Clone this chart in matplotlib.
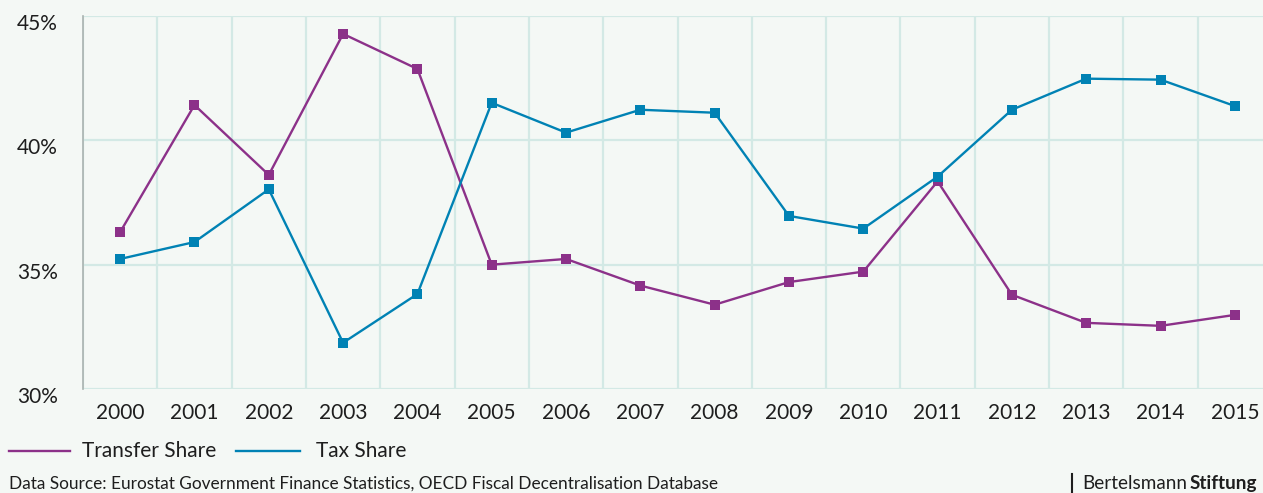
import matplotlib
matplotlib.use("Agg")
import matplotlib.pyplot as plt
import matplotlib.transforms as mtransforms
from matplotlib.lines import Line2D
import numpy as np

years = ["2000", "2001", "2002", "2003", "2004", "2005", "2006", "2007",
         "2008", "2009", "2010", "2011", "2012", "2013", "2014", "2015"]
transfer_share = [36.31, 41.42, 38.61, 44.28, 42.87, 35.00, 35.23, 34.16,
                  33.39, 34.30, 34.72, 38.35, 33.79, 32.66, 32.54, 32.98]
tax_share = [35.23, 35.91, 38.03, 31.86, 33.82, 41.51, 40.31, 41.23,
             41.11, 36.96, 36.45, 38.54, 41.23, 42.48, 42.44, 41.38]
y_ticks = [30, 35, 40, 45]
y_labels = ["30%", "35%", "40%", "45%"]

PURPLE = "#8c3189"
BLUE = "#0082b4"
BG = "#f4f8f5"
GRID = "#d3e9e5"
TEXT = "#1e1e1e"

plt.rcParams['font.family'] = ['Lato', 'DejaVu Sans']

W, H = 1263, 493
fig = plt.figure(figsize=(W / 100, H / 100), dpi=100, facecolor=BG)
left, right, top, bottom = 83, 1272, 16, 389
ax = fig.add_axes([left / W, 1 - bottom / H, (right - left) / W, (bottom - top) / H])
ax.set_facecolor(BG)

x = np.arange(len(years))
ax.plot(x, transfer_share, color=PURPLE, lw=1.7, marker='s', ms=7.5,
        markeredgewidth=0, zorder=3)
ax.plot(x, tax_share, color=BLUE, lw=1.7, marker='s', ms=7.5,
        markeredgewidth=0, zorder=3)

ax.set_xlim(-0.5, len(years) - 0.5)
ax.set_ylim(30, 45)
ax.set_xticks(x)
ax.set_xticklabels(years, fontsize=15, color=TEXT)
ax.set_xticks(np.arange(len(years) + 1) - 0.5, minor=True)
ax.set_yticks(y_ticks)
ax.set_yticklabels(y_labels, fontsize=15, color=TEXT)
ax.tick_params(axis='x', which='both', length=0, pad=10)
ax.tick_params(axis='y', which='both', length=0, pad=18)
ax.grid(True, axis='y', which='major', color=GRID, lw=1.6)
ax.grid(True, axis='x', which='minor', color=GRID, lw=1.6)
ax.grid(False, axis='x', which='major')
ax.set_axisbelow(True)
for s in ['top', 'right', 'bottom']:
    ax.spines[s].set_visible(False)
ax.spines['left'].set_color("#a9b2b0")
ax.spines['left'].set_linewidth(1.2)

# shift y labels slightly down
off = mtransforms.ScaledTranslation(0, -6 / 100, fig.dpi_scale_trans)
for lab in ax.get_yticklabels():
    lab.set_transform(lab.get_transform() + off)

def px(xp, yp):
    return xp / W, 1 - yp / H

# legend (manual)
ly = 451
fig.add_artist(Line2D([9 / W, 70 / W], [1 - ly / H] * 2, color=PURPLE, lw=1.7))
fig.text(*px(82, ly), "Transfer Share", fontsize=15, color=TEXT, va='center', ha='left')
fig.add_artist(Line2D([236 / W, 300 / W], [1 - ly / H] * 2, color=BLUE, lw=1.7))
fig.text(*px(316, ly), "Tax Share", fontsize=15, color=TEXT, va='center', ha='left')

fig.text(*px(9, 489), "Data Source: Eurostat Government Finance Statistics, OECD Fiscal Decentralisation Database",
         fontsize=12.4, color=TEXT, va='baseline', ha='left')

fig.add_artist(Line2D([1072 / W, 1072 / W], [1 - 474 / H, 1 - 495 / H], color=TEXT, lw=1.5))
t1 = fig.text(*px(1082, 489), "Bertelsmann", fontsize=13.6, color=TEXT, va='baseline', ha='left')
fig.canvas.draw()
bb = t1.get_window_extent()
fig.text((bb.x1 + 3) / W, 1 - 489 / H, "Stiftung", fontsize=13.6, color=TEXT,
         va='baseline', ha='left', fontweight='bold')

fig.savefig("out.png", dpi=100, facecolor=BG)
